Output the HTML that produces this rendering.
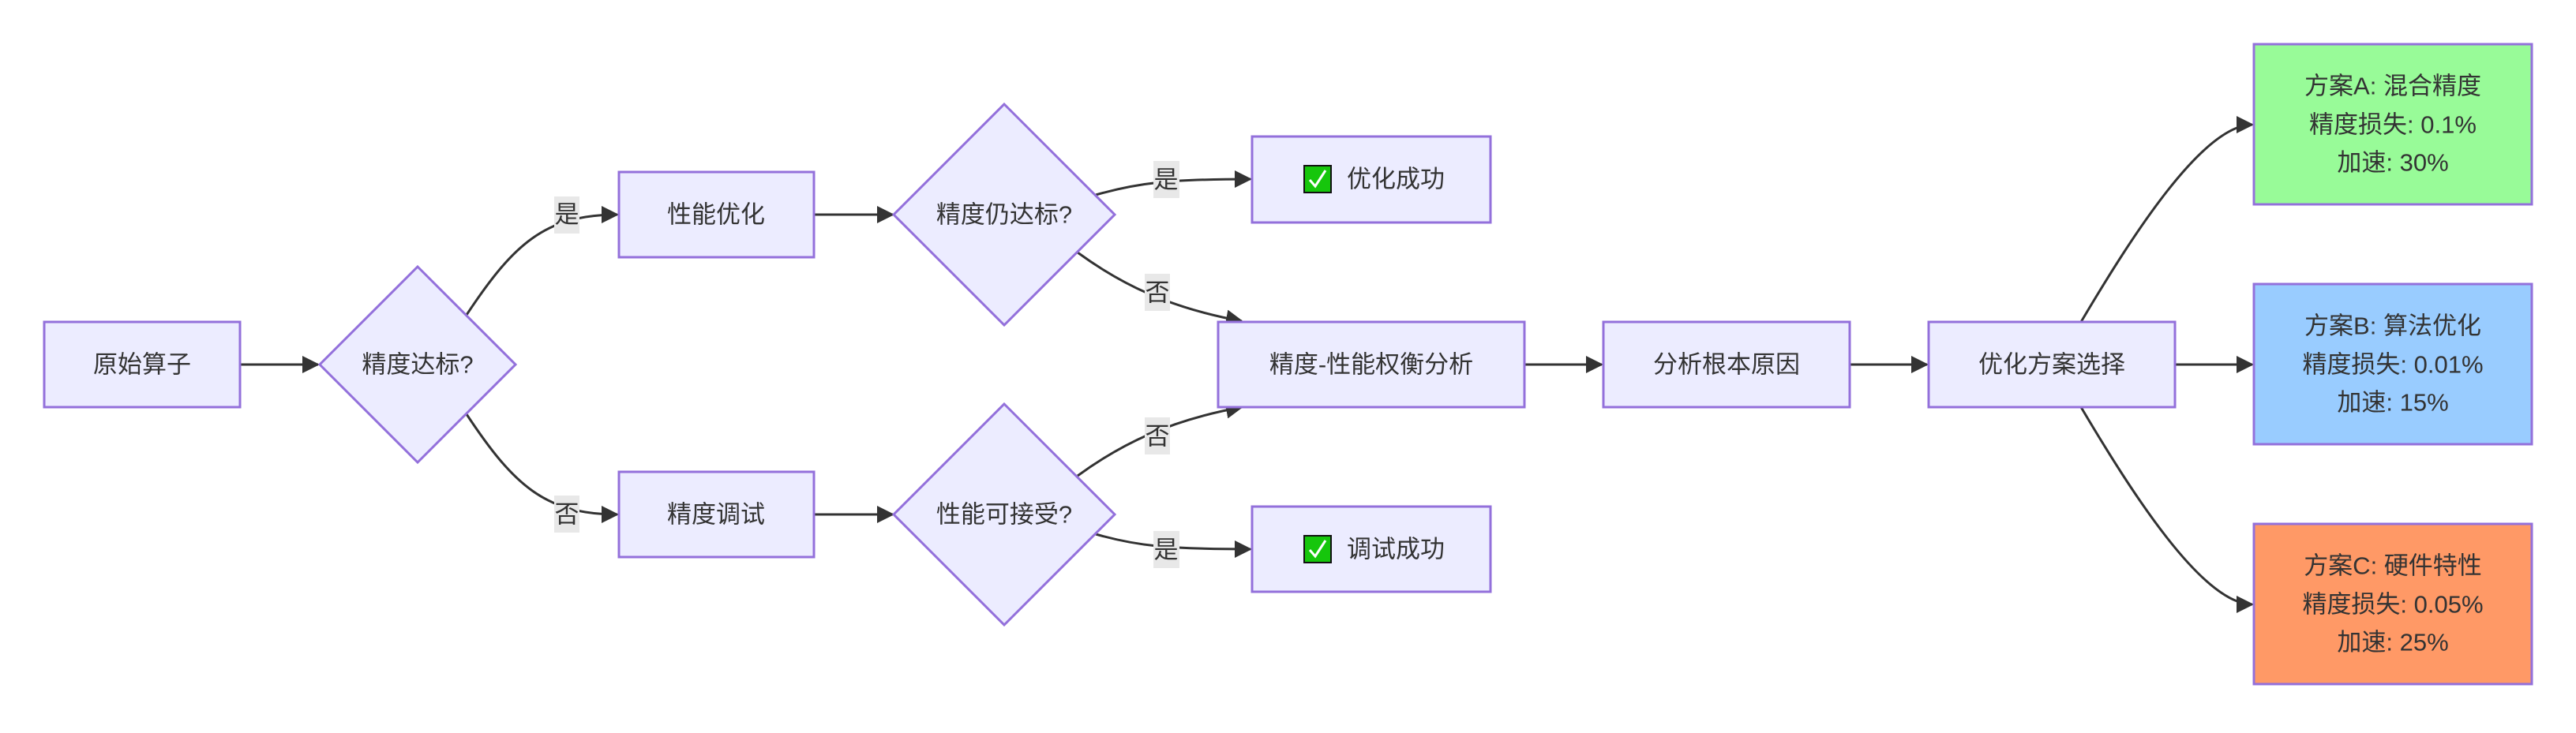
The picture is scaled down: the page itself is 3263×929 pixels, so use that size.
<!DOCTYPE html>
<html><head><meta charset="utf-8"><style>
html,body{margin:0;padding:0;background:#fff;}
svg text{font-family:"Liberation Sans","Noto Sans CJK SC",sans-serif;fill:#333;}
</style></head><body>
<svg width="3263" height="924" viewBox="0 0 3263 924" xmlns="http://www.w3.org/2000/svg">
<defs>
<marker id="ah" markerUnits="userSpaceOnUse" markerWidth="22" markerHeight="22" refX="20" refY="11" orient="auto">
<path d="M0,0 L22,11 L0,22 Z" fill="#333"/>
</marker>
</defs>
<g fill="none" stroke="#333" stroke-width="3" marker-end="url(#ah)">
<path d="M304,462 L403,462"/>
<path d="M591,399 C650,310 690,272 782,272"/>
<path d="M591,525 C650,614 690,652 782,652"/>
<path d="M1031,272 L1131,272"/>
<path d="M1031,652 L1131,652"/>
<path d="M1388,247 C1440,232 1480,227 1584,227"/>
<path d="M1365,320 C1420,360 1480,390 1573,407"/>
<path d="M1365,603 C1420,563 1480,533 1573,516"/>
<path d="M1388,677 C1440,692 1480,696 1584,696"/>
<path d="M1931,462 L2029,462"/>
<path d="M2343,462 L2441,462"/>
<path d="M2755,462 L2853,462"/>
<path d="M2636,408 C2700,300 2790,158 2853,158"/>
<path d="M2636,516 C2700,624 2790,766 2853,766"/>
</g>
<g fill="#ECECFF" stroke="#9370DB" stroke-width="3">
<rect x="56" y="408" width="248" height="108"/>
<polygon points="529,338 653,462 529,586 405,462"/>
<rect x="784" y="218" width="247" height="108"/>
<rect x="784" y="598" width="247" height="108"/>
<polygon points="1272,132 1412,272 1272,412 1132,272"/>
<polygon points="1272,512 1412,652 1272,792 1132,652"/>
<rect x="1586" y="173" width="302" height="109"/>
<rect x="1586" y="642" width="302" height="108"/>
<rect x="1543" y="408" width="388" height="108"/>
<rect x="2031" y="408" width="312" height="108"/>
<rect x="2443" y="408" width="312" height="108"/>
<rect x="2855" y="56" width="352" height="203" fill="#98FB98"/>
<rect x="2855" y="360" width="352" height="203" fill="#99CCFF"/>
<rect x="2855" y="664" width="352" height="203" fill="#FF9966"/>
</g>
<g fill="#e8e8e8">
<rect x="702" y="249" width="32" height="47"/>
<rect x="702" y="628" width="32" height="47"/>
<rect x="1461" y="204" width="33" height="47"/>
<rect x="1450" y="347" width="32" height="47"/>
<rect x="1450" y="529" width="32" height="47"/>
<rect x="1461" y="673" width="33" height="47"/>
</g>
<g font-size="31" text-anchor="middle" dominant-baseline="central">
<text x="718" y="272">是</text>
<text x="718" y="652">否</text>
<text x="1477" y="228">是</text>
<text x="1466" y="371">否</text>
<text x="1466" y="553">否</text>
<text x="1477" y="697">是</text>
<text x="180" y="462">原始算子</text>
<text x="529" y="462">精度达标?</text>
<text x="907" y="272">性能优化</text>
<text x="907" y="652">精度调试</text>
<text x="1272" y="272">精度仍达标?</text>
<text x="1272" y="652">性能可接受?</text>
<text x="1768" y="227">优化成功</text>
<text x="1768" y="696">调试成功</text>
<text x="1737" y="462">精度-性能权衡分析</text>
<text x="2187" y="462">分析根本原因</text>
<text x="2599" y="462">优化方案选择</text>
<text x="3031" y="109">方案A: 混合精度</text>
<text x="3031" y="158">精度损失: 0.1%</text>
<text x="3031" y="206">加速: 30%</text>
<text x="3031" y="413">方案B: 算法优化</text>
<text x="3031" y="462">精度损失: 0.01%</text>
<text x="3031" y="510">加速: 15%</text>
<text x="3031" y="717">方案C: 硬件特性</text>
<text x="3031" y="766">精度损失: 0.05%</text>
<text x="3031" y="814">加速: 25%</text>
</g>
<g>
<rect x="1652" y="210" width="34" height="34" fill="#16C60C" stroke="#111" stroke-width="2"/>
<path d="M1659,228 L1666,236 L1679,216" fill="none" stroke="#fff" stroke-width="3"/>
<rect x="1652" y="679" width="34" height="34" fill="#16C60C" stroke="#111" stroke-width="2"/>
<path d="M1659,697 L1666,705 L1679,685" fill="none" stroke="#fff" stroke-width="3"/>
</g>
</svg>
</body></html>
